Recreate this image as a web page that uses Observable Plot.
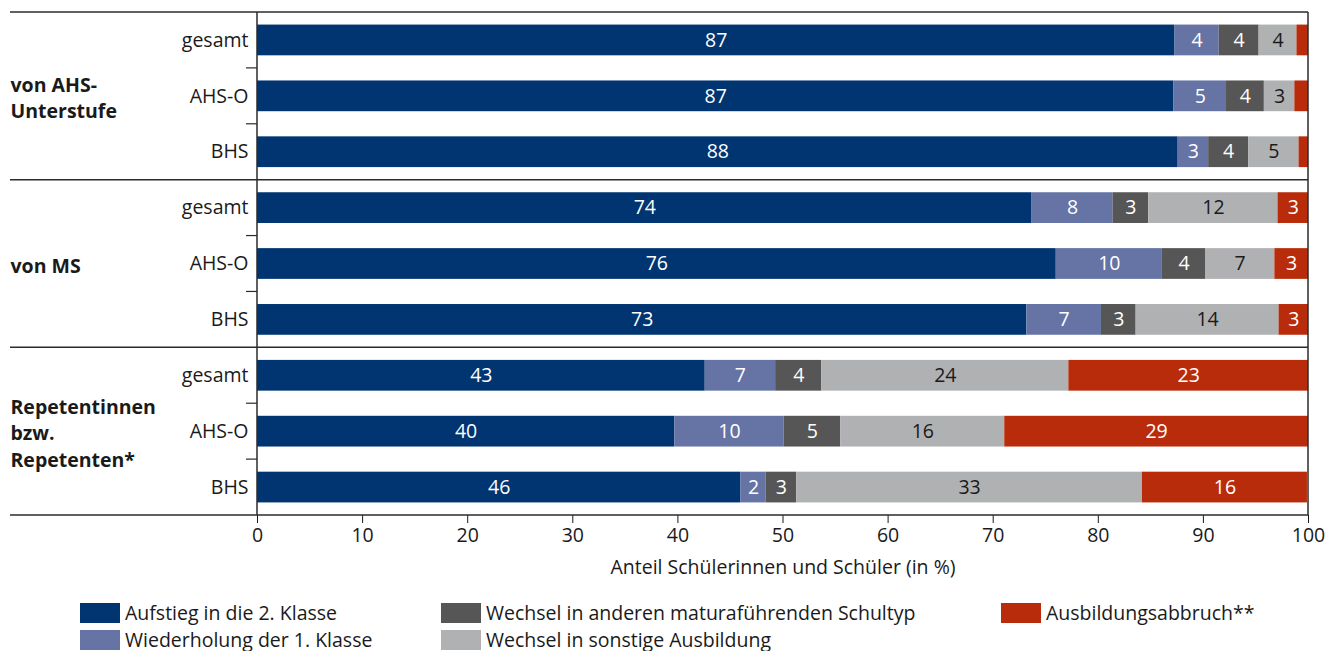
<!DOCTYPE html>
<html>
<head>
<meta charset="utf-8">
<script src="https://cdn.jsdelivr.net/npm/d3@7"></script>
<script src="https://cdn.jsdelivr.net/npm/@observablehq/plot@0.6"></script>
<style>
  html, body { margin: 0; padding: 0; background: #fff; }
  body { width: 1326px; height: 651px; overflow: hidden; font-family: "Open Sans", Lato, sans-serif; color: #1a1a1a; }
  #legend { display: grid; grid-template-columns: 361px 560px auto; grid-template-rows: 27px 27px; grid-auto-flow: column; padding-left: 80px; margin-top: 9px; font-size: 19.5px; line-height: 1.1; }
  .item { display: flex; align-items: center; white-space: nowrap; }
  .sw { width: 40px; height: 20px; margin-right: 5px; flex: none; }
</style>
</head>
<body>
<div id="chart"></div>
<div id="legend"></div>
<script>
// ---- data ----
const groups = ["von AHS-\nUnterstufe", "von MS", "Repetentinnen\nbzw.\nRepetenten*"];
const subs = ["gesamt", "AHS-O", "BHS"];
const series = [
  "Aufstieg in die 2. Klasse",
  "Wiederholung der 1. Klasse",
  "Wechsel in anderen maturaführenden Schultyp",
  "Wechsel in sonstige Ausbildung",
  "Ausbildungsabbruch**"
];
const colors = ["#003571", "#6573a5", "#565656", "#b0b1b3", "#b82c0c"];
// values per row: AHS gesamt, AHS AHS-O, AHS BHS, MS gesamt, MS AHS-O, MS BHS, Rep gesamt, Rep AHS-O, Rep BHS
const aufstieg     = [87.3, 87.2, 87.6, 73.7, 76.0, 73.2, 42.6, 39.7, 46.0];
const wiederholung = [4.2, 5.0, 2.9, 7.7, 10.1, 7.1, 6.7, 10.4, 2.4];
const wechselMatura= [3.8, 3.6, 3.8, 3.4, 4.1, 3.3, 4.4, 5.4, 2.9];
const wechselSonst = [3.6, 2.9, 4.8, 12.3, 6.6, 13.6, 23.5, 15.6, 32.9];
const abbruch      = [1.1, 1.3, 0.9, 2.9, 3.2, 2.8, 22.8, 28.9, 15.7];
const xTicks = [0, 10, 20, 30, 40, 50, 60, 70, 80, 90, 100];
const xLabel = "Anteil Schülerinnen und Schüler (in %)";

// ---- build table ----
const seriesValues = [aufstieg, wiederholung, wechselMatura, wechselSonst, abbruch];
const rowKeys = [];
groups.forEach((g, gi) => subs.forEach((s, si) => rowKeys.push(gi + "|" + s)));
const data = [];
seriesValues.forEach((vals, k) => {
  vals.forEach((v, i) => data.push({row: rowKeys[i], series: series[k], value: v}));
});
const groupLabels = groups.map((g, gi) => ({row: rowKeys[gi * 3 + 1], label: g}));

const FONT = "'Open Sans', Lato, sans-serif";
const W = 1326, H = 590;
const chart = Plot.plot({
  width: W,
  height: H,
  marginTop: 12,
  marginBottom: 75,
  marginLeft: 257,
  marginRight: 18,
  style: {fontFamily: FONT, fontSize: "19.5px", color: "#1a1a1a", background: "white"},
  x: {domain: [0, 100], ticks: xTicks, tickSize: 8, tickPadding: 5, label: xLabel, labelArrow: "none", labelAnchor: "center", labelOffset: 58},
  y: {domain: rowKeys, round: false, paddingInner: 0.45, paddingOuter: 0.225, tickSize: 0, tickPadding: 9, tickFormat: d => d.split("|")[1], label: null},
  color: {domain: series, range: colors},
  marks: [
    Plot.barX(data, {x: "value", y: "row", fill: "series", order: series}),
    Plot.text(data, Plot.stackX({
      x: "value", y: "row", z: "series", order: series,
      text: d => d.value >= 1.5 ? String(Math.round(d.value)) : "",
      fill: d => d.series === series[3] ? "#1a1a1a" : "white",
      fontSize: 19.5
    })),
    Plot.text(groupLabels, {
      y: "row", text: "label", frameAnchor: "left", textAnchor: "start", dx: -247,
      fontWeight: "bold", lineHeight: 1.36, fill: "#1a1a1a", fontSize: 19.5
    })
  ]
});
document.getElementById("chart").appendChild(chart);

// ---- frame & separators, derived from the plot's scales ----
const ys = chart.scale("y"), xs = chart.scale("x");
const [yTop, yBot] = ys.range;
const step = ys.step;
const x0 = xs.apply(0), x1 = xs.apply(100);
const g = d3.select(chart).append("g").attr("stroke", "#2b2b2b").attr("stroke-width", 1.5).attr("fill", "none");
for (let k = 0; k <= rowKeys.length; k++) {
  const yy = yTop + k * step;
  if (k % 3 === 0) g.append("line").attr("x1", 10).attr("x2", x1).attr("y1", yy).attr("y2", yy);
  else g.append("line").attr("x1", x0 - 11).attr("x2", x0).attr("y1", yy).attr("y2", yy).attr("stroke-width", 1.2);
}
g.append("line").attr("x1", x0).attr("x2", x0).attr("y1", yTop).attr("y2", yBot);
g.append("line").attr("x1", x1).attr("x2", x1).attr("y1", yTop).attr("y2", yBot);

// ---- legend ----
const leg = d3.select("#legend");
series.forEach((s, i) => {
  const it = leg.append("div").attr("class", "item");
  it.append("div").attr("class", "sw").style("background", colors[i]);
  it.append("span").text(s);
});
</script>
</body>
</html>
